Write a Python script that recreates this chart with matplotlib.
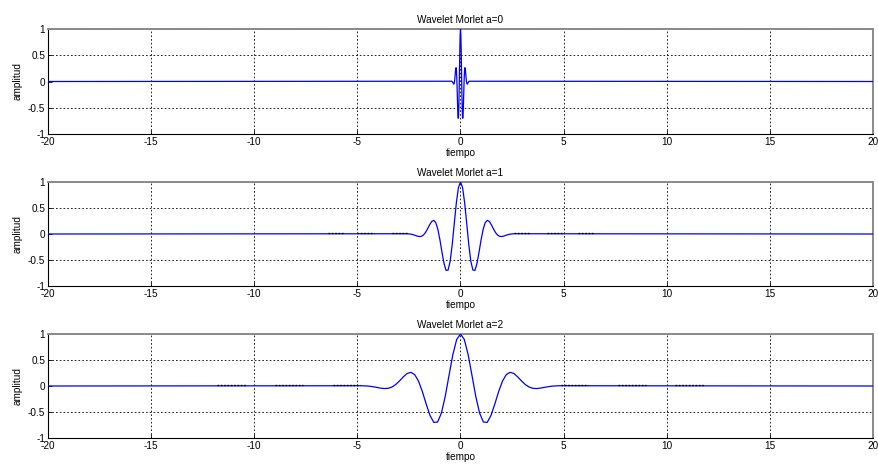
import numpy as np
import matplotlib
matplotlib.use("Agg")
import matplotlib.pyplot as plt

plt.rcParams['font.family'] = ['Liberation Sans', 'DejaVu Sans']

# ---- data ----
titles = ["Wavelet Morlet a=0", "Wavelet Morlet a=1", "Wavelet Morlet a=2"]
xlabel_text = "tiempo"
ylabel_text = "amplitud"
x_ticks = [-20, -15, -10, -5, 0, 5, 10, 15, 20]
x_ticklabels = ["-20", "-15", "-10", "-5", "0", "5", "10", "15", "20"]
y_ticks = [-1, -0.5, 0, 0.5, 1]
y_ticklabels = ["-1", "-0.5", "0", "0.5", "1"]

amp_a1 = [0.005, 0.002, -0.003, -0.013, -0.026, -0.040, -0.049, -0.045, -0.021,
          0.027, 0.096, 0.175, 0.240, 0.263, 0.219, 0.093, -0.107, -0.345,
          -0.565, -0.700, -0.693, -0.520, -0.199, 0.208, 0.605, 0.894, 1.000,
          0.894, 0.605, 0.208, -0.199, -0.520, -0.693, -0.700, -0.565, -0.345,
          -0.107, 0.093, 0.219, 0.263, 0.240, 0.175, 0.096, 0.027, -0.021,
          -0.045, -0.049, -0.040, -0.026, -0.013, -0.003, 0.002, 0.005]
amp_a0 = list(amp_a1)
amp_a2 = list(amp_a1)
# half-width of the oscillating part of each panel (time units)
span_a0 = 0.43
span_a1 = 2.6
span_a2 = 4.81
# tiny flat bumps along zero line (start, end) per panel
bumps_a0 = []
bumps_a1 = [(-6.4, -5.7), (-5.0, -4.2), (-3.3, -2.6), (2.6, 3.3), (4.2, 5.0), (5.7, 6.4)]
bumps_a2 = [(-11.8, -10.4), (-9.0, -7.65), (-6.2, -4.85), (4.85, 6.2), (7.65, 9.0), (10.4, 11.8)]

panels = [(amp_a0, span_a0, bumps_a0), (amp_a1, span_a1, bumps_a1), (amp_a2, span_a2, bumps_a2)]

fig = plt.figure(figsize=(8.79, 4.67), dpi=100)
W, H = 879, 467
left, right = 48, 873
tops = [29, 182, 334]
bots = [134, 286, 438]
FS = 7.2

for i, (amp, span, bumps) in enumerate(panels):
    ax = fig.add_axes([left / W, 1 - bots[i] / H, (right - left) / W, (bots[i] - tops[i]) / H])
    n = len(amp)
    t = np.linspace(-span, span, n)
    x = np.concatenate([[-20.0], t, [20.0]])
    y = np.concatenate([[0.0], amp, [0.0]])
    ax.plot(x, y, color=(0, 0, 1), lw=0.9, zorder=3)
    for (a, b) in bumps:
        ax.plot([a, b], [0.025, 0.025], color="black", lw=1.0,
                linestyle=(0, (1.2, 1.2)), zorder=4)
    ax.set_xlim(-20, 20)
    ax.set_ylim(-1, 1)
    ax.set_xticks(x_ticks)
    ax.set_xticklabels(x_ticklabels)
    ax.set_yticks(y_ticks)
    ax.set_yticklabels(y_ticklabels)
    ax.grid(True, color="black", linestyle=(0, (2, 2.5)), linewidth=0.6, zorder=1)
    ax.set_axisbelow(True)
    # the zero grid line is hidden behind the flat blue signal in the reference
    for gl, v in zip(ax.get_ygridlines(), y_ticks):
        if v == 0:
            gl.set_visible(False)
    ax.tick_params(direction="in", length=3, width=0.6, labelsize=FS, pad=2,
                   top=False, right=False, colors="black")
    for s in ["left", "bottom"]:
        ax.spines[s].set_color("black")
        ax.spines[s].set_linewidth(0.8)
    for s in ["top", "right"]:
        ax.spines[s].set_color("#8a8a8a")
        ax.spines[s].set_linewidth(1.4)
    ax.set_title(titles[i], fontsize=FS, pad=4)
    ax.set_xlabel(xlabel_text, fontsize=FS, labelpad=1)
    ax.set_ylabel(ylabel_text, fontsize=FS, labelpad=4)

fig.savefig("out.png", dpi=100)
